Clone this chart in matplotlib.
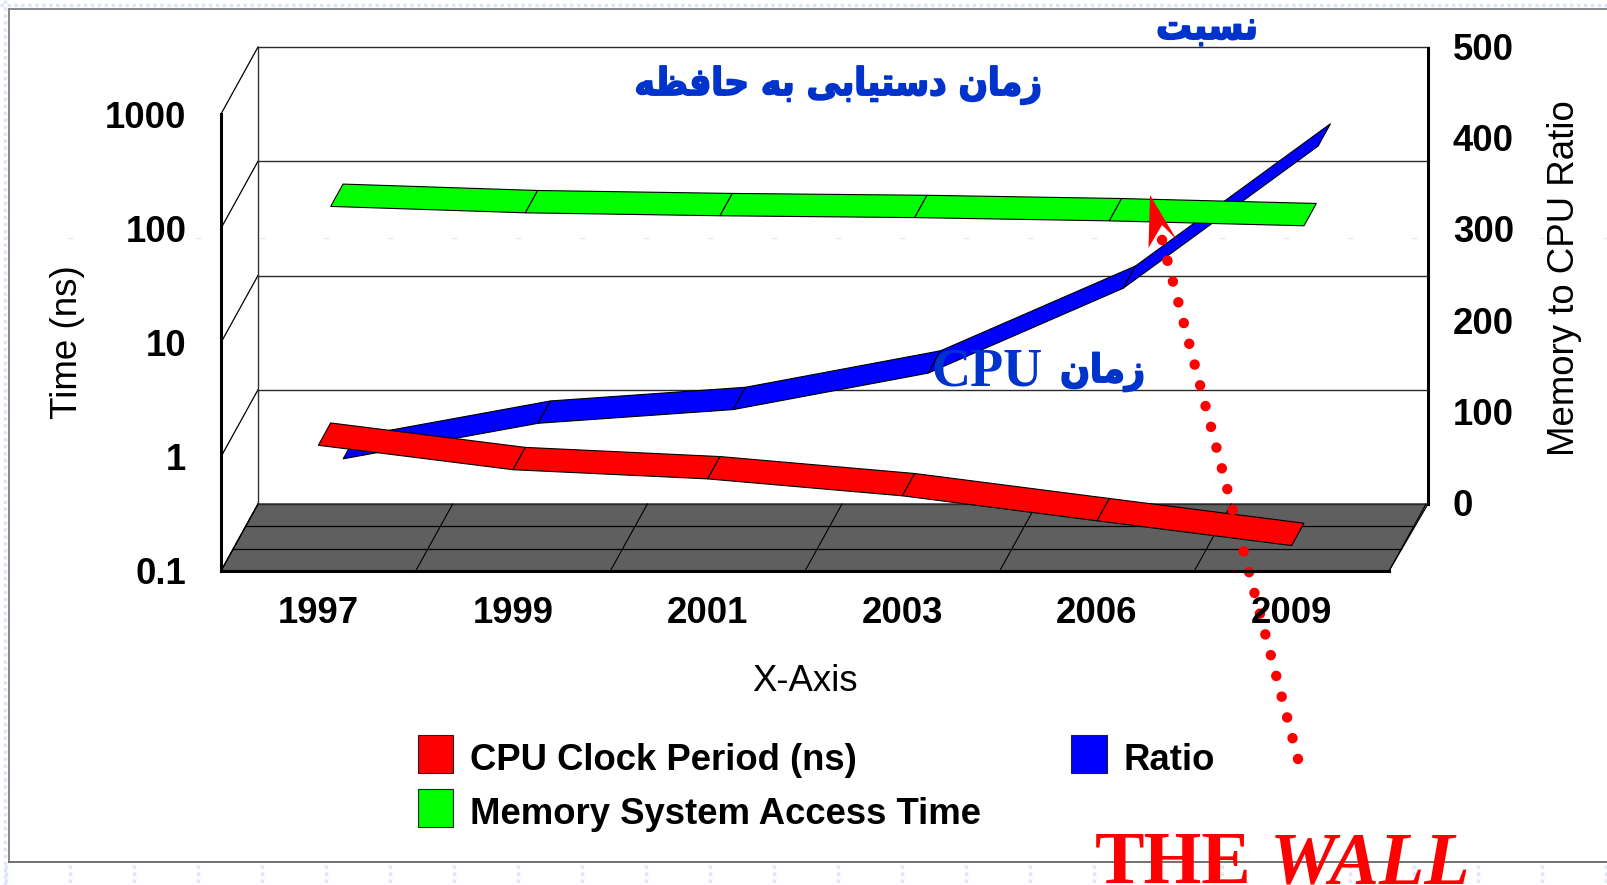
import matplotlib
matplotlib.use("Agg")
import matplotlib.pyplot as plt
import matplotlib.patheffects as pe
from matplotlib.patches import Polygon, Patch, Rectangle
from matplotlib.legend_handler import HandlerPatch
from matplotlib.transforms import ScaledTranslation

# ---- data -------------------------------------------------------------
years = ["1997", "1999", "2001", "2003", "2006", "2009"]
cpu_clock_ns = [1.26, 0.77, 0.64, 0.455, 0.275, 0.167]
memory_access_ns = [99, 87, 82, 79, 74, 67]
ratio = [74, 113, 128, 168, 261, 417]
time_ticks = [0.1, 1, 10, 100, 1000]
time_labels = ["0.1", "1", "10", "100", "1000"]
ratio_ticks = [0, 100, 200, 300, 400, 500]
title_text = "زمان دستیابی به حافظه"
ratio_text = "نسبت"
cpu_word = "زمان"

# ---- minimal Persian shaping (matplotlib does none) --------------------
FORMS = {
    "ا": (0xFE8D, 0xFE8E, None, None), "ب": (0xFE8F, 0xFE90, 0xFE91, 0xFE92),
    "ت": (0xFE95, 0xFE96, 0xFE97, 0xFE98), "ح": (0xFEA1, 0xFEA2, 0xFEA3, 0xFEA4),
    "د": (0xFEA9, 0xFEAA, None, None), "ز": (0xFEAF, 0xFEB0, None, None),
    "س": (0xFEB1, 0xFEB2, 0xFEB3, 0xFEB4), "ظ": (0xFEC5, 0xFEC6, 0xFEC7, 0xFEC8),
    "ف": (0xFED1, 0xFED2, 0xFED3, 0xFED4), "م": (0xFEE1, 0xFEE2, 0xFEE3, 0xFEE4),
    "ن": (0xFEE5, 0xFEE6, 0xFEE7, 0xFEE8), "ه": (0xFEE9, 0xFEEA, 0xFEEB, 0xFEEC),
    "ی": (0xFBFC, 0xFBFD, 0xFBFE, 0xFBFF),
}

def shape(s):
    out = []
    for i, c in enumerate(s):
        if c not in FORMS:
            out.append(c)
            continue
        prev = s[i - 1] if i else " "
        nxt = s[i + 1] if i + 1 < len(s) else " "
        jp = prev in FORMS and FORMS[prev][2] is not None
        jn = nxt in FORMS and FORMS[c][2] is not None
        idx = 3 if (jp and jn) else 1 if jp else 2 if jn else 0
        out.append(chr(FORMS[c][idx]))
    return "".join(reversed(out))

# ---- figure and axes ---------------------------------------------------
W, H = 1608, 885
plt.rcParams["font.family"] = ["Liberation Sans", "DejaVu Sans"]
fig = plt.figure(figsize=(W / 100, H / 100), dpi=100, facecolor="white")

def rect(l, t, r, b):
    return [l / W, 1 - b / H, (r - l) / W, (b - t) / H]

canvas = fig.add_axes([0, 0, 1, 1], zorder=0)
canvas.set_xlim(0, W); canvas.set_ylim(H, 0); canvas.axis("off")

FL, FR, FT, FB = 221, 1389, 114, 571    # front plane
BL, BR, BT, BB = 258, 1428, 48, 504     # back plane
DX, DY = BL - FL, BB - FB               # depth vector
TICK = 26.3

ax = fig.add_axes(rect(FL, FT, FR, FB), zorder=1)
ax.set_yscale("log")
ax.set_xlim(0, 6); ax.set_ylim(0.1, 1000)
ax.patch.set_alpha(0)
for s in ("top", "right"):
    ax.spines[s].set_visible(False)
for s in ("left", "bottom"):
    ax.spines[s].set_linewidth(2.2)
ax.minorticks_off()
ax.set_yticks(time_ticks, time_labels, fontsize=TICK, fontweight="bold")
ax.set_xticks([i + 0.5 for i in range(6)], years, fontsize=TICK, fontweight="bold")
ax.tick_params(axis="y", length=0, pad=25)
ax.tick_params(axis="x", length=0, pad=18)
ax.set_xlabel("X-Axis", fontsize=26.3)
ax.xaxis.set_label_coords(0.5, -0.2045)
ax.set_ylabel("Time (ns)", fontsize=26.5)
ax.yaxis.set_label_coords(-0.1165, 0.5)

axr = fig.add_axes(rect(BL, BT, BR, BB), zorder=1)
axr.patch.set_alpha(0)
axr.set_xlim(0, 6); axr.set_ylim(0, 500)
axr.set_xticks([])
axr.yaxis.tick_right(); axr.yaxis.set_label_position("right")
axr.set_yticks(ratio_ticks, [str(t) for t in ratio_ticks], fontsize=TICK, fontweight="bold")
axr.tick_params(axis="y", length=0, pad=18)
up = ScaledTranslation(0, 1.5 / 100, fig.dpi_scale_trans)
for lab in axr.get_yticklabels():
    lab.set_transform(lab.get_transform() + up)
for s in ("top", "left", "bottom"):
    axr.spines[s].set_visible(False)
axr.spines["right"].set_linewidth(2.2)
axr.set_ylabel("Memory to CPU Ratio", fontsize=26.4)
axr.yaxis.set_label_coords(1.1015, 0.495)

# ---- walls and floor ---------------------------------------------------
gy = [FT + (FB - FT) * i / 4 for i in range(5)]
floor = Polygon([(FL, FB), (BL, BB), (BR, BB), (FR, FB)], fc="#5f5f5f", ec="black", lw=0.8, zorder=1)
canvas.add_patch(floor)
for y in gy:
    canvas.plot([FL, BL], [y, y + DY], color="black", lw=0.9, zorder=2)
    canvas.plot([BL, BR], [y + DY, y + DY], color="#2a2a2a", lw=1.0, zorder=2)
canvas.plot([BL, BL], [BT, BB], color="#333333", lw=1.0, zorder=2)
for i in range(1, 3):
    f = i / 3
    canvas.plot([FL + DX * f, FR + DX * f], [FB + DY * f] * 2, color="black", lw=0.9, zorder=2)
for i in range(7):
    x0 = FL + (FR - FL) * i / 6
    canvas.plot([x0, x0 + DX], [FB, FB + DY], color="black", lw=0.8, zorder=2)

# ---- ribbons, placed through each axis' own scale ------------------------
inv = canvas.transData.inverted()

def project(axis, base_depth, cat, value, depth):
    d = axis.transData.transform((cat + 0.5, value))
    x, y = inv.transform(d)
    return x + DX * (depth - base_depth), y + DY * (depth - base_depth)

def ribbon(axis, base, values, d0, d1, color, z):
    for i in range(len(values) - 1):
        poly = [project(axis, base, i, values[i], d0),
                project(axis, base, i + 1, values[i + 1], d0),
                project(axis, base, i + 1, values[i + 1], d1),
                project(axis, base, i, values[i], d1)]
        canvas.add_patch(Polygon(poly, fc=color, ec="black", lw=0.8, zorder=z))

ribbon(axr, 1, ratio, 2 / 3, 1, "#0000ff", 3)
ribbon(ax, 0, memory_access_ns, 1 / 3, 2 / 3, "#00ff00", 4)
ribbon(ax, 0, cpu_clock_ns, 0, 1 / 3, "#ff0000", 5)

# ---- annotations -------------------------------------------------------
canvas.plot([1298, 1161], [759, 236], color="#ff0000", lw=7.5,
            ls=(0, (0.01, 2.05)), dash_capstyle="round", zorder=6)
canvas.add_patch(Polygon([(1150, 195), (1177, 240), (1162, 225), (1148.5, 248)],
                         fc="#ff0000", ec="none", zorder=7))

blue = "#0033cc"
heavy = [pe.withStroke(linewidth=1.3, foreground=blue)]
arabic = dict(fontweight="bold", family=["DejaVu Sans"], stretch="condensed", color=blue,
              zorder=8, path_effects=heavy)
canvas.text(1042, 85, shape(title_text), ha="right", va="center", fontsize=27.5, **arabic)
canvas.text(1258, 28, shape(ratio_text), ha="right", va="center", fontsize=28.5, **arabic)
canvas.text(1145, 372, shape(cpu_word), ha="right", va="center", fontsize=28, **arabic)
canvas.text(1043, 373, "CPU", ha="right", va="center", color=blue, fontsize=39,
            fontweight="bold", family=["Liberation Serif"], zorder=8)

canvas.text(1095, 883, "THE", ha="left", va="baseline", color="#ff0000",
            fontsize=53.5, fontweight="bold", family=["Liberation Serif"], zorder=8)
canvas.text(1270, 883, "WALL", ha="left", va="baseline", color="#ff0000",
            fontsize=53.5, fontweight="bold", fontstyle="italic", family=["Liberation Serif"], zorder=8)

# ---- legend ------------------------------------------------------------
def swatch(legend, orig_handle, xdescent, ydescent, width, height, fontsize):
    return Rectangle((-xdescent, -2.5), width, 27.5)

handles = [Patch(fc="#ff0000", ec="#222222", lw=0.8, label="CPU Clock Period (ns)"),
           Patch(fc="#00ff00", ec="#222222", lw=0.8, label="Memory System Access Time"),
           Patch(fc="#0000ff", ec="#222222", lw=0.8, label="Ratio")]
fig.legend(handles=handles, ncols=2, frameon=False, loc="upper left",
           bbox_to_anchor=(418 / W, 1 - 741 / H), borderpad=0, borderaxespad=0,
           handlelength=0.96, handleheight=1.0, handletextpad=0.47,
           labelspacing=0.47, columnspacing=2.47,
           handler_map={Patch: HandlerPatch(patch_func=swatch)},
           prop={"size": 26.3, "weight": "bold"})

# ---- slide frame and faint tiled background -----------------------------
pat = "#dfe6fb"
canvas.plot([9, W], [9, 9], color="#7f7f7f", lw=1.3, zorder=1)
canvas.plot([9, 9], [9, 862], color="#7f7f7f", lw=1.3, zorder=1)
canvas.plot([9, W], [862, 862], color="#666666", lw=1.3, zorder=1)
canvas.plot([0, W], [5, 5], color=pat, lw=2.5, ls=(0, (1, 1)), zorder=0)
canvas.plot([5, 5], [0, H], color=pat, lw=2.5, ls=(0, (1, 1)), zorder=0)
for i in range(26):
    x = 6 + 64 * i
    canvas.plot([x, x], [865, H], color=pat, lw=2.5, ls=(0, (1, 1)), zorder=0)
    canvas.plot([x - 2, x + 2], [238, 238], color="#ececec", lw=1, zorder=0)

fig.savefig("out.png", dpi=100)
